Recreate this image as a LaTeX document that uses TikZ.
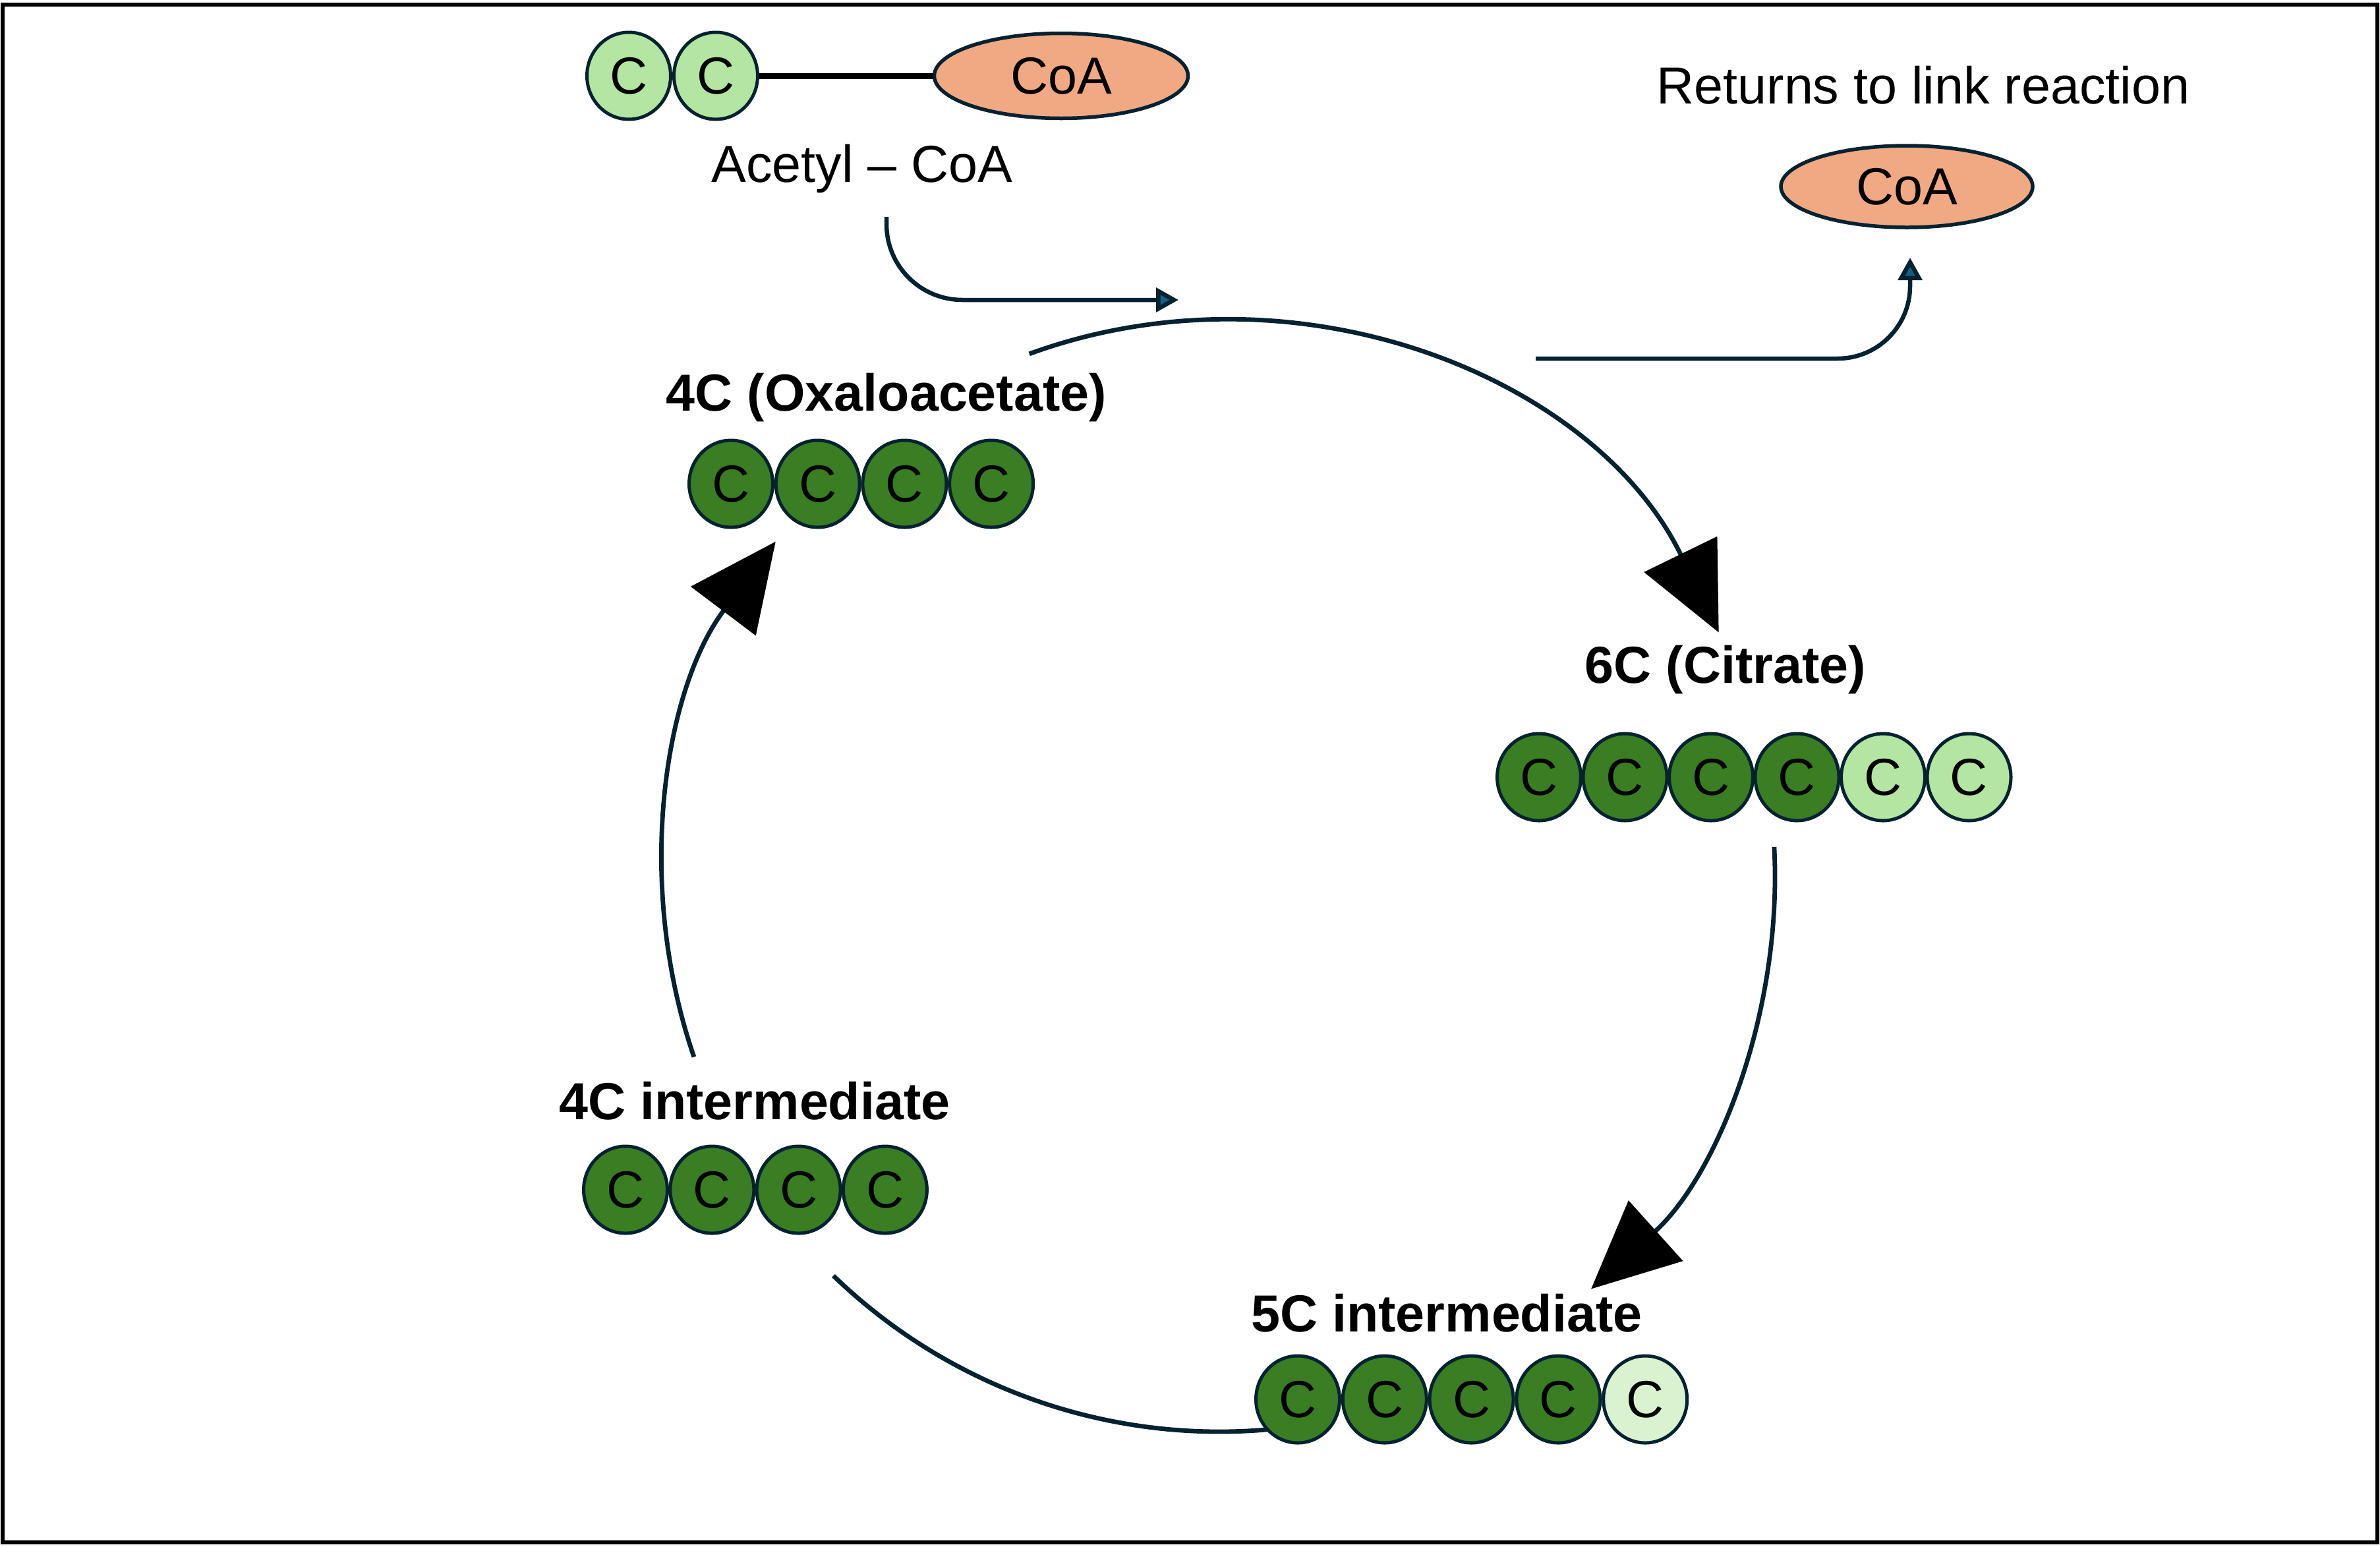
\documentclass[tikz,border=0pt]{standalone}
\usepackage{fontspec}
\setmainfont{Liberation Sans}
\usetikzlibrary{arrows.meta,calc,shapes.geometric}
\definecolor{navy}{RGB}{6,34,48}
\definecolor{dkgreen}{RGB}{58,125,34}
\definecolor{ltgreen}{RGB}{180,229,162}
\definecolor{palegreen}{RGB}{218,242,208}
\definecolor{salmon}{RGB}{241,169,131}
\definecolor{arrowblue}{RGB}{21,96,130}

\begin{document}
\begin{tikzpicture}[x=1cm,y=1cm,
  txt/.style={font=\fontsize{22.5}{27}\selectfont},
  lbl/.style={font=\fontsize{22.5}{27}\selectfont\bfseries},
  atom/.style={ellipse,draw=navy,line width=0.05cm,minimum width=1.27cm,minimum height=1.32cm,inner sep=0pt,txt},
  coa/.style={ellipse,draw=navy,line width=0.055cm,fill=salmon,inner sep=0pt,txt},
  ring/.style={draw=navy,line width=0.068cm},
  big/.style={ring,-{Triangle[length=1.32cm,width=1.22cm,color=black]}},
  feed/.style={draw=navy,line width=0.065cm,-{Triangle[length=0.34cm,width=0.36cm,fill=arrowblue]}}]
  \useasboundingbox (0,0) rectangle (36.11,-23.46);
  \draw[line width=0.06cm] (0.045,-0.065) rectangle (36.07,-23.40);

  \def\R{8.43}
  \coordinate (hub) at (18.50,-13.29);
  \draw[big] ($(hub)+(110:\R)$) arc[start angle=110,end angle=26,radius=\R];
  \draw[big] ($(hub)+(3:\R)$) arc[start angle=3,end angle=-48,radius=\R];
  \draw[ring] ($(hub)+(-134:\R)$) arc[start angle=-134,end angle=-84,radius=\R];
  \draw[big] ($(hub)+(199:\R)$) arc[start angle=199,end angle=143,radius=\R];

  \foreach \i in {1,2}
    \node[atom,fill=ltgreen] (ace\i) at ({9.54+1.32*(\i-1)},-1.15) {C};
  \node[coa,minimum width=3.85cm,minimum height=1.29cm] (coa1) at (16.10,-1.15) {CoA};
  \draw[line width=0.09cm] (ace2.east) -- (coa1.west);
  \node[txt] (acelbl) at (13.08,-2.56) {Acetyl \textendash\ CoA};

  \node[txt] (retlbl) at (29.18,-1.29) {Returns to link reaction};
  \node[coa,minimum width=3.82cm,minimum height=1.24cm] (coa2) at (28.93,-2.83) {CoA};

  \coordinate (acein) at (13.45,-3.29);
  \coordinate (aceout) at (17.88,-4.55);
  \draw[feed,rounded corners=1.15cm] (acein) |- (aceout);
  \coordinate (retin) at (23.30,-5.44);
  \coordinate (retout) at (28.98,-3.91);
  \draw[feed,rounded corners=1.1cm] (retin) -| (retout);

  \node[lbl] (oxalbl) at (13.45,-6.03) {4C (Oxaloacetate)};
  \foreach \i in {1,...,4}
    \node[atom,fill=dkgreen] (oxa\i) at ({11.09+1.317*(\i-1)},-7.34) {C};

  \node[lbl] (citlbl) at (26.18,-10.16) {6C (Citrate)};
  \foreach \c [count=\i] in {dkgreen,dkgreen,dkgreen,dkgreen,ltgreen,ltgreen}
    \node[atom,fill=\c] (cit\i) at ({23.35+1.305*(\i-1)},-11.79) {C};

  \node[lbl] (fivlbl) at (21.95,-19.92) {5C intermediate};
  \foreach \c [count=\i] in {dkgreen,dkgreen,dkgreen,dkgreen,palegreen}
    \node[atom,fill=\c] (fiv\i) at ({19.69+1.318*(\i-1)},-21.23) {C};

  \node[lbl] (fourlbl) at (11.45,-16.70) {4C intermediate};
  \foreach \i in {1,...,4}
    \node[atom,fill=dkgreen] (four\i) at ({9.49+1.313*(\i-1)},-18.05) {C};
\end{tikzpicture}
\end{document}
